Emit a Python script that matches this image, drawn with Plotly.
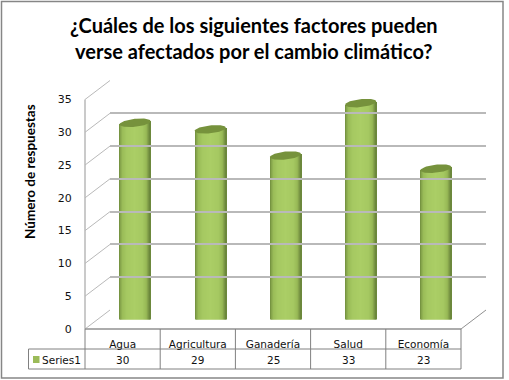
import numpy as np
import plotly.graph_objects as go

categories = ["Agua", "Agricultura", "Ganadería", "Salud", "Economía"]
respuestas = [30, 29, 25, 33, 23]
y_ticks = [0, 5, 10, 15, 20, 25, 30, 35]
series_name = "Series1"
title_text = "¿Cuáles de los siguientes factores pueden<br>verse afectados por el cambio climático?"
y_title = "Número de respuestas"

W, H = 509, 380
FX0, FX1, FY0, FY1 = 85, 461, 329, 99.5   # front plane in pixels
DX, DY = 25, -19                          # depth offset
PXU = (FY0 - FY1) / 35.0
GRID = "#b9b9b9"
LINE = "#868686"
TXT = "#111111"

def dx(a, b):
    return [a / W, b / W]
def dy(a, b):
    return [1 - a / H, 1 - b / H]

fig = go.Figure()

# cylinders: strips of shaded overlay bars, drawn through x2/y2
n = 31
ts = (np.arange(n) + 0.5) / n * 2 - 1
stops_t = [-1, -0.92, -0.78, -0.5, 0.0, 0.5, 0.76, 0.9, 1]
stops_c = [(0x6e, 0x8a, 0x3c), (0x84, 0xa3, 0x4a), (0x9a, 0xbc, 0x58), (0xa6, 0xc9, 0x62),
           (0xab, 0xce, 0x66), (0xa6, 0xc9, 0x62), (0x98, 0xb9, 0x56), (0x7a, 0x97, 0x45), (0x66, 0x81, 0x38)]
rad = 15.5 / 75.0
cap_h = 4.0 / PXU
tilt = 1.6 / PXU
x_idx = list(range(len(categories)))
for t in ts:
    col = "rgb(%d,%d,%d)" % tuple(np.interp(t, stops_t, [c[i] for c in stops_c]) for i in range(3))
    low = -cap_h * np.sqrt(1 - t * t) + t * tilt * 0.3
    hi = t * tilt
    fig.add_trace(go.Bar(
        x=[i + t * rad for i in x_idx],
        y=[v + hi - low for v in respuestas],
        base=[low] * len(x_idx),
        width=2.6 * rad / n,
        marker=dict(color=col, line=dict(width=0)),
        xaxis="x2", yaxis="y2", showlegend=False, hoverinfo="skip",
    ))
# caps
th = np.linspace(0, 2 * np.pi, 60)
for i, v in zip(x_idx, respuestas):
    fig.add_trace(go.Scatter(
        x=i + rad * np.cos(th),
        y=v + cap_h * np.sin(th) + tilt * np.cos(th),
        mode="lines", fill="toself", fillcolor="#76923c",
        line=dict(width=0, color="#76923c"),
        xaxis="x2", yaxis="y2", showlegend=False, hoverinfo="skip",
    ))

# invisible carriers for the front and back axes
fig.add_trace(go.Scatter(x=x_idx, y=respuestas, mode="markers", marker=dict(opacity=0),
                         xaxis="x", yaxis="y", showlegend=False, hoverinfo="skip"))
fig.add_trace(go.Scatter(x=x_idx, y=respuestas, mode="markers", marker=dict(opacity=0),
                         xaxis="x3", yaxis="y3", showlegend=False, hoverinfo="skip"))

shapes = []
def seg(x0, y0, x1, y1, color=LINE, w=1):
    shapes.append(dict(type="line", xref="paper", yref="paper", x0=x0 / W, x1=x1 / W,
                       y0=1 - y0 / H, y1=1 - y1 / H, line=dict(color=color, width=w), layer="below"))

# outer frame
shapes.append(dict(type="rect", xref="paper", yref="paper", x0=1.5 / W, x1=503 / W,
                   y0=1 - 378 / H, y1=1 - 1.5 / H, line=dict(color="#868686", width=1.5), layer="below"))
# left wall + floor outlines
for v in y_ticks:
    yy = FY0 - v * PXU
    seg(FX0, yy, FX0 + DX, yy + DY, GRID, 1)
seg(FX0, FY1, FX0, FY0, GRID, 1.5)
seg(FX1, FY0, FX1 + DX, FY0 + DY, "#909090", 1)
# data table
seg(FX0, FY0, FX1, FY0, "#909090", 1.5)
seg(28.5, 349, FX1, 349, "#808080", 1)
seg(28.5, 369, FX1, 369, "#808080", 1)
seg(28.5, 349, 28.5, 369, "#808080", 1)
for k in range(len(categories) + 1):
    xx = FX0 + k * (FX1 - FX0) / len(categories)
    seg(xx, FY0, xx, 369, "#808080", 1)
# legend key
shapes.append(dict(type="rect", xref="paper", yref="paper", x0=33 / W, x1=39.5 / W,
                   y0=1 - 363 / H, y1=1 - 356 / H, fillcolor="#9bbb59", line=dict(width=0)))

annotations = [
    dict(text=title_text, xref="paper", yref="paper", x=254 / W, y=1 - 38 / H, showarrow=False,
         xanchor="center", yanchor="middle",
         font=dict(family="Lato", size=20, color="#000000", weight="bold"), align="center"),
    dict(text=y_title, xref="paper", yref="paper", x=30 / W, y=1 - 172 / H, showarrow=False, textangle=-90,
         xanchor="center", yanchor="middle",
         font=dict(family="Lato", size=13.5, color="#000000", weight="bold")),
    dict(text=series_name, xref="paper", yref="paper", x=61 / W, y=1 - 360 / H, showarrow=False,
         xanchor="center", yanchor="middle",
         font=dict(family="DejaVu Sans", size=10.5, color=TXT)),
]
for i, v in zip(x_idx, respuestas):
    annotations.append(dict(text=str(v), xref="x", yref="paper", x=i, y=1 - 360 / H, showarrow=False,
                            xanchor="center", yanchor="middle",
                            font=dict(family="DejaVu Sans", size=10.5, color=TXT)))

def hidden(**kw):
    return dict(visible=False, fixedrange=True, **kw)

fig.update_layout(
    width=W, height=H, margin=dict(l=0, r=0, t=0, b=0, pad=0, autoexpand=False), barmode="overlay", bargap=0,
    paper_bgcolor="#ffffff", plot_bgcolor="rgba(0,0,0,0)", showlegend=False,
    shapes=shapes, annotations=annotations,
    xaxis=dict(domain=dx(FX0, FX1), range=[-0.5, 4.5], tickvals=x_idx, ticktext=categories,
               showgrid=False, zeroline=False, showline=False, ticks="outside", ticklen=5,
               tickcolor="rgba(0,0,0,0)", tickfont=dict(family="DejaVu Sans", size=10.5, color=TXT),
               anchor="y", fixedrange=True),
    yaxis=dict(domain=dy(FY0, FY1), range=[0, 35], tickvals=y_ticks, showgrid=False, zeroline=False,
               showline=False, ticks="outside", ticklen=10, tickcolor="rgba(0,0,0,0)",
               tickfont=dict(family="DejaVu Sans", size=11, color=TXT), anchor="x", fixedrange=True),
    xaxis2=hidden(domain=dx(FX0 + DX / 2, FX1 + DX / 2), range=[-0.5 - 0.0, 4.5], anchor="y2"),
    yaxis2=hidden(domain=dy(FY0 + DY / 2, FY1 + DY / 2), range=[0, 35], anchor="x2"),
    xaxis3=dict(domain=dx(FX0 + DX, FX1 + DX), range=[-0.5, 4.5], showticklabels=False, ticks="",
                showgrid=False, zeroline=False, showline=False, anchor="y3", fixedrange=True),
    yaxis3=dict(domain=dy(FY0 + DY, FY1 + DY), range=[0, 35], tickvals=y_ticks, showticklabels=False,
                ticks="", showgrid=True, gridcolor=GRID, gridwidth=1.5, zeroline=False, showline=False,
                anchor="x3", fixedrange=True),
)
post = ("document.documentElement.style.margin='0';document.body.style.margin='0';"
        "var g=document.querySelector('.plotly-graph-div');"
        "g.style.position='absolute';g.style.left='0';g.style.top='0';")
fig.write_html("out.html", post_script=post, config=dict(displayModeBar=False))
